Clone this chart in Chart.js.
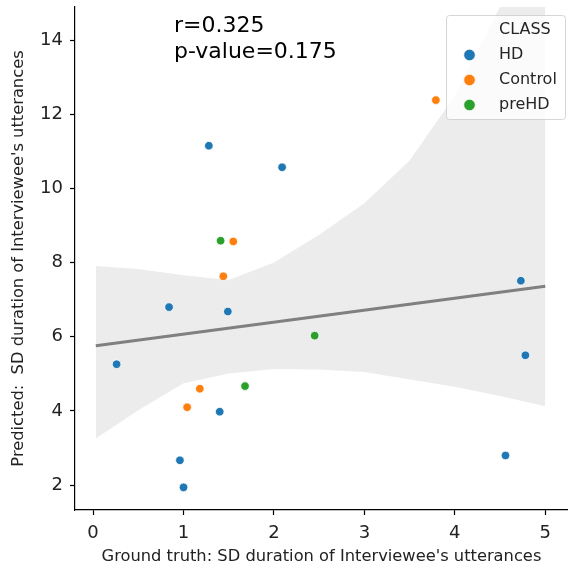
<!DOCTYPE html>
<html>
<head>
<meta charset="utf-8">
<script src="https://cdn.jsdelivr.net/npm/chart.js@4"></script>
<style>
    body { margin: 0; background: #fff; }
    canvas { display: block; }
</style>
</head>
<body>
<canvas id="corrChart" width="573" height="570"></canvas>
<script>
const classes = ['HD', 'Control', 'preHD'];
const classColors = ['#1f77b4', '#ff7f0e', '#2ca02c'];

const hdX = [1.28, 2.09, 4.73, 0.84, 1.49, 0.26, 1.40, 0.96, 1.00, 4.78, 4.56];
const hdY = [11.15, 10.57, 7.51, 6.80, 6.68, 5.26, 3.98, 2.67, 1.94, 5.50, 2.80];
const controlX = [3.79, 1.55, 1.44, 1.18, 1.04];
const controlY = [12.38, 8.57, 7.63, 4.60, 4.10];
const preHdX = [1.41, 1.68, 2.45];
const preHdY = [8.59, 4.67, 6.03];

// regression fit and its confidence band
const fitX = [0.03, 5.0];
const fitY = [5.76, 7.36];
const bandX = [0.03, 0.5, 1.0, 1.5, 2.0, 2.5, 3.0, 3.5, 4.0, 4.5, 5.0];
const bandUpper = [7.91, 7.83, 7.66, 7.53, 8.0, 8.75, 9.6, 10.75, 12.5, 14.9, 17.0];
const bandLower = [3.26, 4.02, 4.75, 5.01, 5.13, 5.12, 5.05, 4.85, 4.65, 4.40, 4.13];

const xTicks = [0, 1, 2, 3, 4, 5];
const yTicks = [2, 4, 6, 8, 10, 12, 14];

const statLines = ['r=0.325', 'p-value=0.175'];

const FONT = "'DejaVu Sans', sans-serif";

const toPoints = (xs, ys) => xs.map((x, i) => ({ x: x, y: ys[i] }));

const scatterSet = (label, xs, ys, color) => ({
    type: 'scatter',
    label: label,
    data: toPoints(xs, ys),
    backgroundColor: color,
    borderColor: '#ffffff',
    borderWidth: 0.8,
    pointRadius: 4.3,
    order: 0
});

// no extra room for half tick labels, the plot box is fixed
const noPadding = (scale) => {
    scale.paddingTop = 0;
    scale.paddingBottom = 0;
    scale.paddingLeft = 0;
    scale.paddingRight = 0;
};

// draws the r / p text and the legend box inside the plot
const overlayPlugin = {
    id: 'overlay',
    afterDraw(chart) {
        const ctx = chart.ctx;
        ctx.save();
        ctx.fillStyle = '#000';
        ctx.font = '22px ' + FONT;
        ctx.textAlign = 'left';
        ctx.textBaseline = 'alphabetic';
        ctx.fillText(statLines[0], 174, 32);
        ctx.fillText(statLines[1], 174, 58);

        // legend
        const lx = 446.5, ly = 15.5, lw = 119, lh = 104;
        ctx.beginPath();
        ctx.roundRect(lx, ly, lw, lh, 3);
        ctx.fillStyle = 'rgba(255,255,255,0.8)';
        ctx.fill();
        ctx.strokeStyle = 'rgba(204,204,204,0.8)';
        ctx.lineWidth = 1;
        ctx.stroke();

        ctx.font = '16px ' + FONT;
        ctx.textBaseline = 'middle';
        ctx.fillStyle = '#262626';
        ctx.fillText('CLASS', 499, 30);
        const rowY = [55, 80, 105];
        classes.forEach((name, i) => {
            ctx.beginPath();
            ctx.arc(469.5, rowY[i], 5.8, 0, Math.PI * 2);
            ctx.fillStyle = classColors[i];
            ctx.fill();
            ctx.strokeStyle = '#fff';
            ctx.lineWidth = 0.8;
            ctx.stroke();
            ctx.fillStyle = '#262626';
            ctx.fillText(name, 499, rowY[i]);
        });
        ctx.restore();
    }
};

const ctx = document.getElementById('corrChart').getContext('2d');
new Chart(ctx, {
    type: 'scatter',
    data: {
        datasets: [
            scatterSet(classes[0], hdX, hdY, classColors[0]),
            scatterSet(classes[1], controlX, controlY, classColors[1]),
            scatterSet(classes[2], preHdX, preHdY, classColors[2]),
            {
                type: 'line',
                label: 'fit',
                data: toPoints(fitX, fitY),
                borderColor: '#808080',
                borderWidth: 3,
                pointRadius: 0,
                fill: false,
                order: 1
            },
            {
                type: 'line',
                label: 'upper',
                data: toPoints(bandX, bandUpper),
                borderWidth: 0,
                borderColor: 'rgba(0,0,0,0)',
                backgroundColor: 'rgba(128,128,128,0.15)',
                pointRadius: 0,
                fill: '+1',
                order: 2
            },
            {
                type: 'line',
                label: 'lower',
                data: toPoints(bandX, bandLower),
                borderWidth: 0,
                borderColor: 'rgba(0,0,0,0)',
                pointRadius: 0,
                fill: false,
                order: 3
            }
        ]
    },
    options: {
        responsive: false,
        animation: false,
        layout: { padding: { top: 7, right: 1, left: 0, bottom: 0 } },
        plugins: {
            legend: { display: false },
            tooltip: { enabled: false }
        },
        scales: {
            x: {
                type: 'linear',
                min: -0.2,
                max: 5.25,
                afterFit: (scale) => { scale.height = 60; noPadding(scale); },
                afterBuildTicks: (scale) => { scale.ticks = xTicks.map(v => ({ value: v })); },
                grid: { drawOnChartArea: false, tickLength: 5, color: '#000', tickWidth: 1.2 },
                border: { display: true, color: '#000', width: 1.2 },
                ticks: { color: '#222', padding: 8, font: { family: FONT, size: 18 } },
                title: {
                    display: true,
                    text: "Ground truth: SD duration of Interviewee's utterances",
                    color: '#222',
                    padding: { top: 0, bottom: 3 },
                    font: { family: FONT, size: 16.3 }
                }
            },
            y: {
                type: 'linear',
                min: 1.33,
                max: 14.89,
                afterFit: (scale) => { scale.width = 75; noPadding(scale); },
                afterBuildTicks: (scale) => { scale.ticks = yTicks.map(v => ({ value: v })); },
                grid: { drawOnChartArea: false, tickLength: 5, color: '#000', tickWidth: 1.2 },
                border: { display: true, color: '#000', width: 1.2 },
                ticks: { color: '#222', padding: 7, font: { family: FONT, size: 18 } },
                title: {
                    display: true,
                    text: "Predicted:  SD duration of Interviewee's utterances",
                    color: '#222',
                    padding: { top: 9, bottom: 0 },
                    font: { family: FONT, size: 16.3 }
                }
            }
        }
    },
    plugins: [overlayPlugin]
});
</script>
</body>
</html>
